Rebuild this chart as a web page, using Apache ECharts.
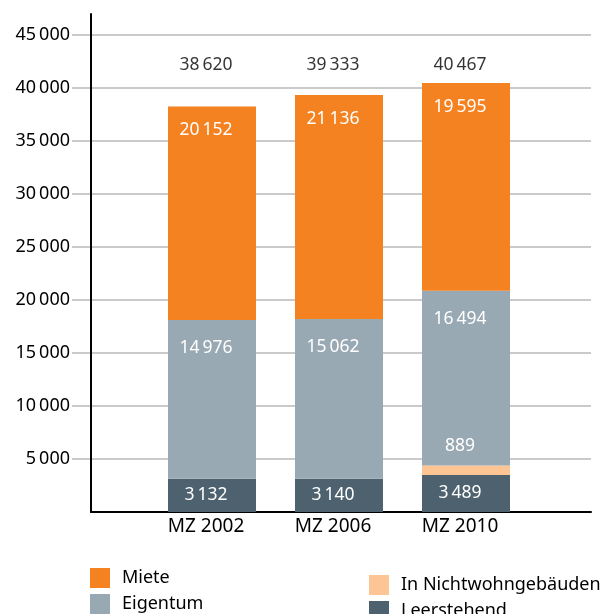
<!DOCTYPE html>
<html>
<head>
<meta charset="utf-8">
<script src="https://cdn.jsdelivr.net/npm/echarts@6/dist/echarts.min.js"></script>
<style>
  html, body { margin: 0; padding: 0; background: #fff; }
  #chart { width: 603px; height: 614px; }
</style>
</head>
<body>
<div id="chart"></div>
<script>
// Daten
const categories = ["MZ 2002", "MZ 2006", "MZ 2010"];
const leerstehend = [3132, 3140, 3489];
const nichtwohn = [0, 0, 889];
const eigentum = [14976, 15062, 16494];
const miete = [20152, 21136, 19595];
const totals = [38620, 39333, 40467];

const FONT = "Noto Sans";
const TOTAL_Y = 42200; // Höhe der Summenbeschriftung

// Tausendertrennzeichen
const fmt = (v) => String(v).replace(/\B(?=(\d{3})+(?!\d))/g, "\u2009");

const myChart = echarts.init(document.getElementById("chart"));

const innerLabel = (pos, extra) =>
  Object.assign(
    {
      show: true,
      position: pos,
      color: "#fff",
      fontFamily: FONT,
      fontSize: 17.5,
      offset: [-6, 0],
      formatter: (p) => (p.value ? fmt(p.value) : ""),
    },
    extra || {}
  );

const legendBase = {
  orient: "vertical",
  height: 80,
  itemWidth: 20,
  itemHeight: 20,
  itemGap: 6,
  icon: "rect",
  textStyle: { fontFamily: FONT, fontSize: 18, color: "#000", lineHeight: 20, padding: [0, 0, 0, 7] },
};

const option = {
  animation: false,
  textStyle: { fontFamily: FONT },
  grid: [
    // Hilfslinien + Beschriftung
    { left: 72, right: 12, top: 35, bottom: 102 },
    // Balken
    { left: 148.5, right: 73.5, top: 35, bottom: 102 },
    // schwarze Achsenlinien
    { left: 91, right: 12, top: 14, bottom: 102 },
  ],
  legend: [
    Object.assign({ data: ["Miete", "Eigentum"], left: 85, top: 563 }, legendBase),
    Object.assign({ data: ["In Nichtwohngebäuden", "Leerstehend"], left: 364, top: 570 }, legendBase),
  ],
  xAxis: [
    { gridIndex: 0, type: "value", show: false, min: 0, max: 1 },
    {
      gridIndex: 1,
      type: "category",
      data: categories,
      axisLine: { show: false },
      axisTick: { show: false },
      axisLabel: {
        color: "#000",
        fontFamily: FONT,
        fontSize: 19,
        margin: 5,
        padding: [0, 12, 0, 0],
      },
    },
    {
      gridIndex: 2,
      type: "value",
      min: 0,
      max: 1,
      axisLine: { show: true, lineStyle: { color: "#000", width: 2 } },
      axisTick: { show: false },
      axisLabel: { show: false },
      splitLine: { show: false },
    },
  ],
  yAxis: [
    {
      gridIndex: 0,
      type: "value",
      min: 0,
      max: 45000,
      interval: 5000,
      axisLine: { show: false },
      axisTick: { show: false },
      axisLabel: {
        color: "#000",
        fontFamily: FONT,
        fontSize: 18,
        margin: 2,
        formatter: (v) => (v === 0 ? "" : fmt(v)),
      },
      splitLine: { show: true, showMinLine: false, lineStyle: { color: "#b8b8b8", width: 1.5 } },
    },
    { gridIndex: 1, type: "value", min: 0, max: 45000, show: false },
    {
      gridIndex: 2,
      type: "value",
      min: 0,
      max: 1,
      axisLine: { show: true, lineStyle: { color: "#000", width: 2 } },
      axisTick: { show: false },
      axisLabel: { show: false },
      splitLine: { show: false },
    },
  ],
  series: [
    {
      name: "Leerstehend",
      type: "bar",
      stack: "a",
      xAxisIndex: 1,
      yAxisIndex: 1,
      barWidth: 88,
      data: leerstehend,
      itemStyle: { color: "#4d626e" },
      label: innerLabel("inside"),
    },
    {
      name: "In Nichtwohngebäuden",
      type: "bar",
      stack: "a",
      xAxisIndex: 1,
      yAxisIndex: 1,
      barWidth: 88,
      data: nichtwohn,
      itemStyle: { color: "#fdc594" },
      label: innerLabel("top", { distance: 11 }),
    },
    {
      name: "Eigentum",
      type: "bar",
      stack: "a",
      xAxisIndex: 1,
      yAxisIndex: 1,
      barWidth: 88,
      data: eigentum,
      itemStyle: { color: "#99a9b3" },
      label: innerLabel("insideTop", { distance: 19 }),
    },
    {
      name: "Miete",
      type: "bar",
      stack: "a",
      xAxisIndex: 1,
      yAxisIndex: 1,
      barWidth: 88,
      data: miete,
      itemStyle: { color: "#f58220" },
      label: innerLabel("insideTop", { distance: 15 }),
    },
    {
      name: "Summe",
      type: "scatter",
      xAxisIndex: 1,
      yAxisIndex: 1,
      symbolSize: 0,
      data: totals.map((t, i) => [i, TOTAL_Y, t]),
      label: {
        show: true,
        position: "inside",
        color: "#000",
        fontFamily: FONT,
        fontSize: 17.5,
        offset: [-6, 0],
        formatter: (p) => fmt(p.value[2]),
      },
      silent: true,
    },
  ],
};
myChart.setOption(option);
</script>
</body>
</html>
